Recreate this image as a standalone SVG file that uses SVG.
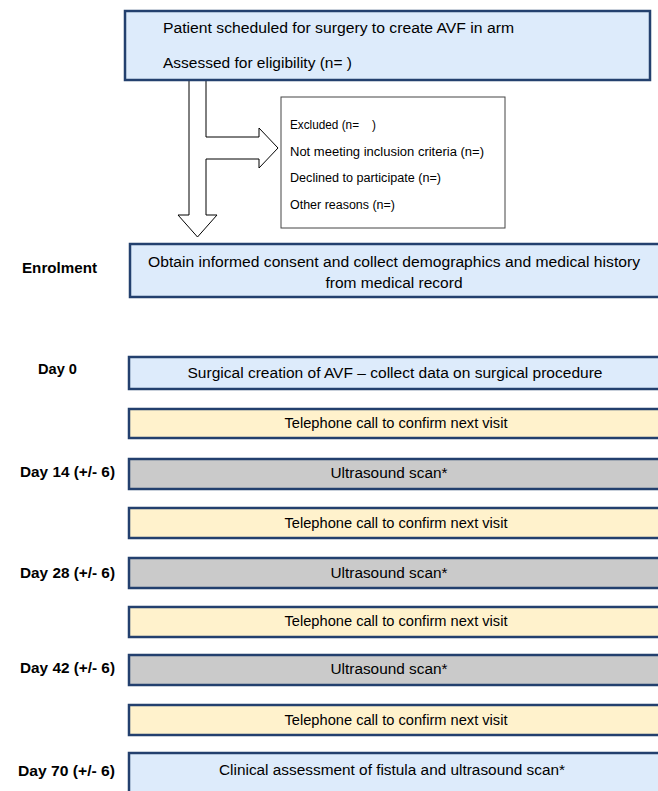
<svg xmlns="http://www.w3.org/2000/svg" width="658" height="791" viewBox="0 0 658 791">
<style>
.box{stroke:#23406e;stroke-width:2.5}
.blue{fill:#ddebfb}
.yellow{fill:#fff2cc}
.gray{fill:#cacaca}
.t{font-family:"Liberation Sans","DejaVu Sans",sans-serif;font-size:14px;fill:#000}
.c{text-anchor:middle}
.lab{font-family:"Liberation Sans","DejaVu Sans",sans-serif;font-size:14px;font-weight:bold;fill:#000}
.ex{font-family:"Liberation Sans",Arial,sans-serif;font-size:12.5px;fill:#000}
.arrow{fill:#fff;stroke:#000;stroke-width:1}
</style>
<rect width="658" height="791" fill="#fff"/>
<g id="connectors">
<polygon class="arrow" points="189,78 189,215 178,215 197.5,237 217,215 206,215 206,159 259,159 259,168 278,148 259,128 259,137 206,137 206,78"/>
</g>
<g id="screening">
<rect class="box blue" x="125" y="11" width="525" height="69"/>
<text class="t" x="163" y="33" textLength="351" lengthAdjust="spacingAndGlyphs">Patient scheduled for surgery to create AVF in arm</text>
<text class="t" x="163" y="68" textLength="189" lengthAdjust="spacingAndGlyphs">Assessed for eligibility (n= )</text>
</g>
<g id="excluded">
<rect x="281" y="97" width="224" height="131" fill="#fff" stroke="#444" stroke-width="1"/>
<text class="ex" x="290" y="129" xml:space="preserve" textLength="86" lengthAdjust="spacingAndGlyphs">Excluded (n=    )</text>
<text class="ex" x="290" y="156" textLength="194" lengthAdjust="spacingAndGlyphs">Not meeting inclusion criteria (n=)</text>
<text class="ex" x="290" y="182" textLength="151" lengthAdjust="spacingAndGlyphs">Declined to participate (n=)</text>
<text class="ex" x="290" y="209" textLength="105" lengthAdjust="spacingAndGlyphs">Other reasons (n=)</text>
</g>
<g id="enrolment">
<text class="lab" x="22" y="273" textLength="75" lengthAdjust="spacingAndGlyphs">Enrolment</text>
<rect class="box blue" x="130" y="244" width="532" height="53"/>
<text class="t c" x="394" y="267" textLength="492" lengthAdjust="spacingAndGlyphs">Obtain informed consent and collect demographics and medical history</text>
<text class="t c" x="394" y="288" textLength="137" lengthAdjust="spacingAndGlyphs">from medical record</text>
</g>
<g id="day0">
<text class="lab" x="38" y="374" textLength="39" lengthAdjust="spacingAndGlyphs">Day 0</text>
<rect class="box blue" x="129" y="357" width="533" height="32"/>
<text class="t c" x="395" y="378" textLength="415" lengthAdjust="spacingAndGlyphs">Surgical creation of AVF – collect data on surgical procedure</text>
</g>
<g id="tel1">
<rect class="box yellow" x="129" y="409" width="533" height="29"/>
<text class="t c" x="396" y="428" font-size="13" textLength="223" lengthAdjust="spacingAndGlyphs">Telephone call to confirm next visit</text>
</g>
<g id="day14">
<text class="lab" x="20" y="477" textLength="95" lengthAdjust="spacingAndGlyphs">Day 14 (+/- 6)</text>
<rect class="box gray" x="129" y="459" width="533" height="30"/>
<text class="t c" x="389" y="478" textLength="117" lengthAdjust="spacingAndGlyphs">Ultrasound scan*</text>
</g>
<g id="tel2">
<rect class="box yellow" x="129" y="508" width="533" height="30"/>
<text class="t c" x="396" y="528" font-size="13" textLength="223" lengthAdjust="spacingAndGlyphs">Telephone call to confirm next visit</text>
</g>
<g id="day28">
<text class="lab" x="20" y="578" textLength="95" lengthAdjust="spacingAndGlyphs">Day 28 (+/- 6)</text>
<rect class="box gray" x="129" y="558" width="533" height="30"/>
<text class="t c" x="389" y="578" textLength="117" lengthAdjust="spacingAndGlyphs">Ultrasound scan*</text>
</g>
<g id="tel3">
<rect class="box yellow" x="129" y="607" width="533" height="30"/>
<text class="t c" x="396" y="626" font-size="13" textLength="223" lengthAdjust="spacingAndGlyphs">Telephone call to confirm next visit</text>
</g>
<g id="day42">
<text class="lab" x="20" y="673" textLength="95" lengthAdjust="spacingAndGlyphs">Day 42 (+/- 6)</text>
<rect class="box gray" x="129" y="655" width="533" height="30"/>
<text class="t c" x="389" y="674" textLength="117" lengthAdjust="spacingAndGlyphs">Ultrasound scan*</text>
</g>
<g id="tel4">
<rect class="box yellow" x="129" y="705" width="533" height="30"/>
<text class="t c" x="396" y="725" font-size="13" textLength="223" lengthAdjust="spacingAndGlyphs">Telephone call to confirm next visit</text>
</g>
<g id="day70">
<text class="lab" x="18" y="776" textLength="97" lengthAdjust="spacingAndGlyphs">Day 70 (+/- 6)</text>
<rect class="box blue" x="129" y="753" width="533" height="45"/>
<text class="t c" x="392" y="775" textLength="346" lengthAdjust="spacingAndGlyphs">Clinical assessment of fistula and ultrasound scan*</text>
</g>
</svg>
